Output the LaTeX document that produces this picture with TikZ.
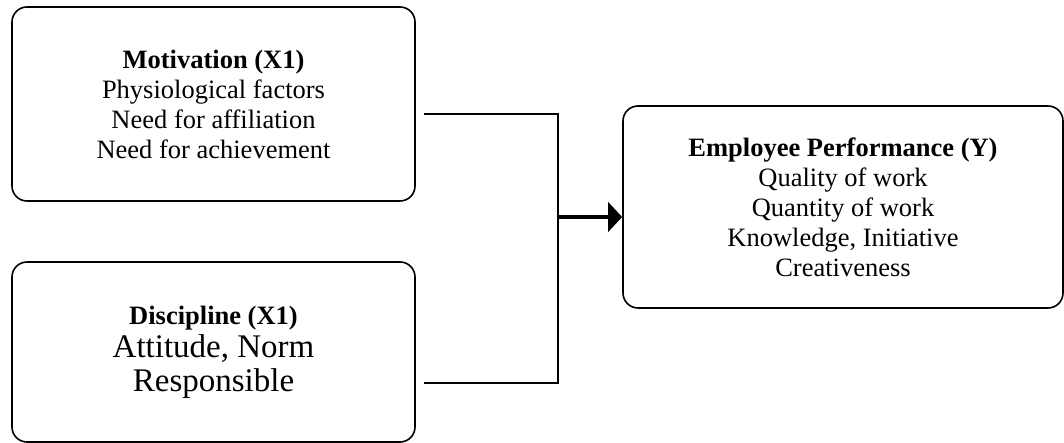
\documentclass[tikz,border=0pt]{standalone}
\usepackage{fontspec}
\setmainfont{Liberation Serif}
\usetikzlibrary{calc, positioning}
\usetikzlibrary{arrows.meta}
\def\bw{403pt}
\newcommand{\bigline}[1]{{\fontsize{33}{36}\selectfont #1}}
\tikzset{
    factorbox/.style = {
        draw, rectangle, rounded corners=15pt, line width=1.6pt, align=center,
        minimum width=\bw, font=\fontsize{26.5}{30}\selectfont
    },
    link/.style = {line width=1.6pt},
    flow/.style = {line width=3.5pt, -{Triangle[width=29pt,length=14pt]}},
}
\begin{document}
\begin{tikzpicture}
        \useasboundingbox (0pt,0pt) rectangle (1064pt,443pt);

        % Place the blocks
        \node[factorbox, minimum height=194pt] (mot) at (213.5pt,339pt)
            {\textbf{Motivation (X1)}\\Physiological factors\\Need for affiliation\\Need for achievement};
        \node[factorbox, minimum height=180pt] (dis) at (213.5pt,91pt)
            {\textbf{Discipline (X1)}\\[3pt]\bigline{Attitude, Norm}\\[4pt]\bigline{Responsible}};
        \node[factorbox, minimum width=440pt, minimum height=202pt] (perf) at (843pt,236pt)
            {\textbf{Employee Performance (Y)}\\Quality of work\\Quantity of work\\Knowledge, Initiative\\Creativeness};

        % Draw connections
        \coordinate (mot-out) at ([shift={(8pt,-10pt)}]mot.east);
        \coordinate (dis-out) at ([shift={(8pt,-31pt)}]dis.east);
        \coordinate (merge) at (558pt,226pt);
        \draw[link] (mot-out) -| (merge) |- (dis-out);
        \draw[flow] (merge) -- (perf.west |- merge);
    \end{tikzpicture}
\end{document}
